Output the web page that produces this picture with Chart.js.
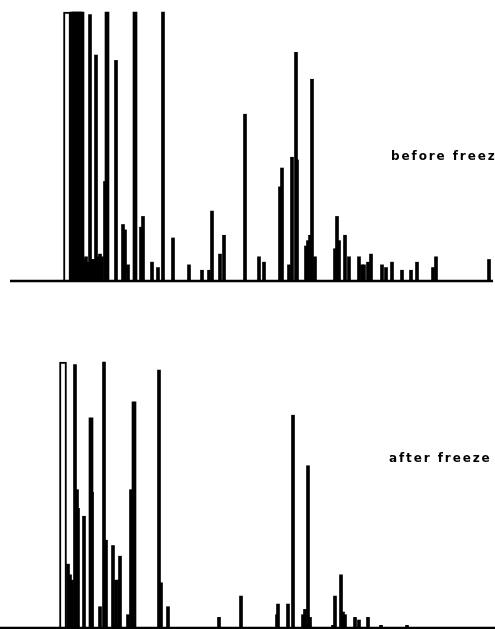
<!DOCTYPE html>
<html>
<head>
<meta charset="utf-8">
<script src="https://cdn.jsdelivr.net/npm/chart.js@4/dist/chart.umd.min.js"></script>
<style>
  html, body { margin: 0; padding: 0; background: #fff; }
  #wrap { position: relative; width: 495px; height: 629px; overflow: hidden; }
  canvas { position: absolute; left: 0; }
  #before { top: 0; }
  #after { top: 300px; }
</style>
</head>
<body>
<div id="wrap">
  <canvas id="before" width="495" height="290"></canvas>
  <canvas id="after" width="495" height="329"></canvas>
</div>
<script>
// retention position (x) and response in % of full scale (y)

// before freezing
const beforeOpenX = [67];
const beforeOpenY = [100];
const beforeThickX = [72, 74, 76, 78, 80, 82, 107, 135];
const beforeThickY = [100, 100, 100, 100, 100, 100, 100, 100];
const beforeClusterX = [84, 86, 88, 92, 94, 98, 100, 102];
const beforeClusterY = [8, 9, 7, 8, 8, 9, 10, 9];
const beforePeakX = [90, 96, 105, 116, 123,
  125, 128, 141, 143, 152, 158, 163, 173, 189, 202,
  209, 212, 220, 224, 245, 259, 264, 280, 282, 289,
  292, 296, 297, 306, 308, 310, 312, 315, 335, 337,
  339, 345, 349, 359, 362, 364, 368, 371, 382, 386,
  392, 402, 411, 417, 433, 436, 489];
const beforePeakY = [99, 84, 37, 82, 21,
  19, 6, 20, 24, 7, 5, 100, 16, 6, 4,
  4, 26, 10, 17, 62, 9, 7, 35, 42, 6,
  46, 85, 45, 13, 15, 17, 75, 9, 12, 24,
  15, 17, 9, 9, 6, 6, 7, 10, 6, 5,
  7, 4, 4, 7, 5, 9, 8];
const beforeBaseX = [10, 493];

// after freezing
const afterOpenX = [63];
const afterOpenY = [100];
const afterThickX = [91, 134];
const afterThickY = [79, 85];
const afterClusterX = [];
const afterClusterY = [];
const afterPeakX = [68, 70, 72, 75, 77, 78, 84, 92, 100, 104,
  106, 113, 116, 119, 120, 128, 131, 159, 161, 168,
  219, 241, 277, 278, 288, 293, 303, 305, 308, 310,
  333, 335, 341, 343, 345, 355, 359, 368, 381, 407];
const afterPeakY = [24, 20, 18, 99, 52, 45, 42, 51, 8, 100,
  33, 31, 18, 18, 27, 5, 52, 97, 17, 8,
  4, 12, 5, 9, 9, 80, 5, 7, 61, 4,
  1, 12, 20, 6, 5, 4, 3, 4, 1, 1];
const afterBaseX = [0, 495];

const toPoints = (xs, ys) => xs.map((x, i) => ({ x: x, y: ys[i] }));

const labelPlugin = {
  id: 'panelLabel',
  afterDraw(chart, args, opts) {
    const { ctx, scales: { x, y } } = chart;
    ctx.save();
    ctx.font = 'bold 12px "DejaVu Sans"';
    ctx.letterSpacing = '1.9px';
    ctx.fillStyle = '#000';
    ctx.textBaseline = 'middle';
    ctx.fillText(opts.text, x.getPixelForValue(opts.x), y.getPixelForValue(opts.y));
    ctx.restore();
  }
};

function bars(xs, ys, thickness) {
  return {
    data: toPoints(xs, ys),
    backgroundColor: '#000',
    borderWidth: 0,
    barThickness: thickness,
    grouped: false,
    clip: false
  };
}

function makeChart(id, p) {
  const ctx = document.getElementById(id).getContext('2d');
  return new Chart(ctx, {
    type: 'bar',
    data: {
      datasets: [
        {
          type: 'line',
          data: p.base.map(x => ({ x: x, y: 0 })),
          borderColor: '#000',
          borderWidth: 2.5,
          pointRadius: 0,
          clip: false
        },
        {
          data: toPoints(p.openX, p.openY),
          backgroundColor: '#fff',
          borderColor: '#000',
          borderWidth: 2,
          barThickness: 7,
          grouped: false,
          clip: false
        },
        bars(p.clusterX, p.clusterY, 3),
        bars(p.thickX, p.thickY, 4),
        bars(p.peakX, p.peakY, 3)
      ]
    },
    options: {
      responsive: false,
      animation: false,
      layout: { padding: p.padding },
      plugins: {
        legend: { display: false },
        tooltip: { enabled: false },
        panelLabel: p.label
      },
      scales: {
        x: { type: 'linear', min: 0, max: 495, offset: false, display: false },
        y: { min: 0, max: 100, display: false }
      }
    },
    plugins: [labelPlugin]
  });
}

makeChart('before', {
  openX: beforeOpenX, openY: beforeOpenY,
  thickX: beforeThickX, thickY: beforeThickY,
  clusterX: beforeClusterX, clusterY: beforeClusterY,
  peakX: beforePeakX, peakY: beforePeakY,
  base: beforeBaseX,
  padding: { top: 12, bottom: 9, left: 0, right: 0 },
  label: { text: 'before freez', x: 391, y: 46 }
});

makeChart('after', {
  openX: afterOpenX, openY: afterOpenY,
  thickX: afterThickX, thickY: afterThickY,
  clusterX: afterClusterX, clusterY: afterClusterY,
  peakX: afterPeakX, peakY: afterPeakY,
  base: afterBaseX,
  padding: { top: 62, bottom: 1, left: 0, right: 0 },
  label: { text: 'after freeze', x: 389, y: 63.5 }
});
</script>
</body>
</html>
